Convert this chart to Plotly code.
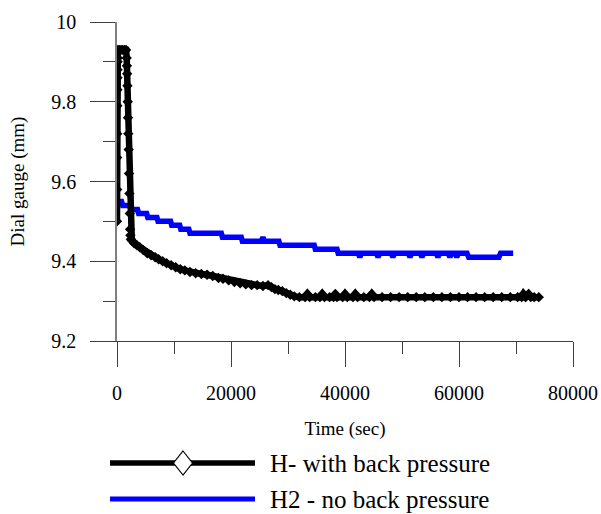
import plotly.graph_objects as go

# ---- data ----
t_black = [0, 15, 30, 45, 60, 75, 90, 105, 120, 135, 150,
           400, 700, 1000, 1300, 1600,
           1700, 1740, 1780, 1830, 1880, 1930, 1980, 2040, 2110, 2180, 2240, 2290, 2350, 2450,
           2600, 3000, 3500, 4000, 4600, 5300, 6000, 6700, 7300, 8000, 8700, 9500,
           10300, 11100, 11900, 12800, 13800, 14800, 15800, 16800, 17800, 18600, 19600, 20600,
           21600, 22600, 23600, 24600, 25600, 26500, 27100, 27700, 28300, 29000, 29700, 30400,
           31100, 32000, 33000, 33400, 33800, 34800, 35600, 36000, 36400, 37300, 38000, 38300,
           38600, 39600, 40000, 40400, 41400, 41800, 42200, 43300, 44300, 44700, 45100, 46500,
           48000, 49500, 51000, 52500, 54000, 55500, 57000, 58500, 60000, 61500, 63000, 64500,
           66000, 67500, 69000, 70300, 71000, 71300, 71700, 72200, 72600, 73200, 74000]
v_black = [9.50, 9.58, 9.66, 9.72, 9.79, 9.83, 9.86, 9.88, 9.90, 9.91, 9.93,
           9.93, 9.93, 9.93, 9.93, 9.93,
           9.91, 9.89, 9.87, 9.84, 9.80, 9.76, 9.72, 9.68, 9.62, 9.57, 9.52, 9.48, 9.465, 9.455,
           9.452, 9.445, 9.44, 9.435, 9.428, 9.42, 9.415, 9.41, 9.405, 9.40, 9.395, 9.39,
           9.385, 9.38, 9.377, 9.373, 9.37, 9.368, 9.366, 9.363, 9.358, 9.356, 9.352, 9.348,
           9.345, 9.342, 9.34, 9.34, 9.338, 9.34, 9.335, 9.33, 9.328, 9.325, 9.32, 9.316,
           9.312, 9.31, 9.31, 9.318, 9.31, 9.31, 9.31, 9.318, 9.31, 9.31, 9.31, 9.318,
           9.31, 9.31, 9.318, 9.31, 9.31, 9.318, 9.31, 9.31, 9.31, 9.318, 9.31, 9.31,
           9.31, 9.31, 9.31, 9.31, 9.31, 9.31, 9.31, 9.31, 9.31, 9.31, 9.31, 9.31,
           9.31, 9.31, 9.31, 9.31, 9.31, 9.318, 9.31, 9.318, 9.31, 9.31, 9.31]

t_blue = [0, 800, 1000, 2200, 2400, 3600, 3800, 5200, 5400, 7000, 7200, 9400,
          9600, 11000, 11200, 12600, 12800, 18300, 18500, 21800, 22000, 25300, 25600,
          25900, 28400, 28600, 34600, 34800, 38600, 38800, 42300, 42600, 42900, 45500,
          45800, 46100, 48100, 48400, 48700, 51100, 51400, 51700, 53200, 53500, 53800,
          56000, 56300, 56600, 58100, 58400, 58700, 59300, 59600, 59900, 61400, 61700,
          67000, 67300, 69500]
v_blue = [9.55, 9.55, 9.54, 9.54, 9.53, 9.53, 9.52, 9.52, 9.51, 9.51, 9.50, 9.50,
          9.49, 9.49, 9.48, 9.48, 9.47, 9.47, 9.46, 9.46, 9.45, 9.45, 9.46,
          9.45, 9.45, 9.44, 9.44, 9.43, 9.43, 9.42, 9.42, 9.41, 9.42, 9.42,
          9.41, 9.42, 9.42, 9.41, 9.42, 9.42, 9.41, 9.42, 9.42, 9.41, 9.42,
          9.42, 9.41, 9.42, 9.42, 9.41, 9.42, 9.42, 9.41, 9.42, 9.42, 9.41,
          9.41, 9.42, 9.42]

name_black = "H- with back pressure"
name_blue = "H2 - no back pressure"

x_ticks = [0, 20000, 40000, 60000, 80000]
y_ticks = [9.2, 9.4, 9.6, 9.8, 10.0]
y_ticklabels = ["9.2", "9.4", "9.6", "9.8", "10"]

FONT = "Liberation Serif"

fig = go.Figure()
fig.add_trace(go.Scatter(x=t_blue, y=v_blue, name=name_blue, mode="lines",
                         line=dict(color="#0000ff", width=5.5), showlegend=False))
fig.add_trace(go.Scatter(x=t_black, y=v_black, name=name_black, mode="lines+markers",
                         line=dict(color="black", width=6.5),
                         marker=dict(symbol="diamond", size=8, color="black"),
                         showlegend=False))

# ---- custom legend (long line samples like the original) ----
W, H = 456.0, 319.0
def px2x(px):
    return (px - 117) / W
def py2y(py):
    return (341 - py) / H

rows = [(463, "black", 5.5, name_black, True), (499, "#0000ff", 5, name_blue, False)]
shapes = []
annots = []
for py, col, lw, txt, diamond in rows:
    shapes.append(dict(type="line", xref="paper", yref="paper",
                       x0=px2x(110), x1=px2x(255), y0=py2y(py), y1=py2y(py),
                       line=dict(color=col, width=lw)))
    if diamond:
        shapes.append(dict(type="path", xref="paper", yref="paper",
                           xsizemode="pixel", ysizemode="pixel",
                           xanchor=px2x(183), yanchor=py2y(py),
                           path="M0,12 L9.5,0 L0,-12 L-9.5,0 Z",
                           fillcolor="white", line=dict(color="black", width=1.2)))
    annots.append(dict(xref="paper", yref="paper", x=px2x(268), y=py2y(py),
                       xanchor="left", yanchor="middle", text=txt, showarrow=False,
                       font=dict(family=FONT, size=25, color="black")))

fig.update_layout(
    width=601, height=514,
    margin=dict(l=117, r=28, t=22, b=173, autoexpand=False),
    paper_bgcolor="white", plot_bgcolor="white",
    font=dict(family=FONT, size=20, color="black"),
    shapes=shapes, annotations=annots,
    showlegend=False,
)
fig.update_xaxes(
    range=[0, 80000], tickvals=x_ticks, ticktext=[str(v) for v in x_ticks],
    showgrid=False, zeroline=False, showline=True, linecolor="#404040", linewidth=1.2,
    ticks="outside", ticklen=25, tickcolor="#404040", tickwidth=1.2,
    minor=dict(dtick=10000, ticks="outside", ticklen=12, tickcolor="#404040", tickwidth=1.2, showgrid=False),
    ticklabelstandoff=9, tickfont=dict(family=FONT, size=20),
    title=dict(text="Time (sec)", font=dict(family=FONT, size=19), standoff=18),
    automargin=False,
)
fig.update_yaxes(
    range=[9.2, 10.0], tickvals=y_ticks, ticktext=y_ticklabels,
    showgrid=False, zeroline=False, showline=True, linecolor="#808080", linewidth=1.5,
    ticks="outside", ticklen=25, tickcolor="#404040", tickwidth=1.2,
    minor=dict(dtick=0.1, ticks="outside", ticklen=12, tickcolor="#404040", tickwidth=1.2, showgrid=False),
    ticklabelstandoff=10, tickfont=dict(family=FONT, size=20),
    title=dict(text="Dial gauge (mm)", font=dict(family=FONT, size=19), standoff=22),
    automargin=False,
)

fig.write_html("out.html")
